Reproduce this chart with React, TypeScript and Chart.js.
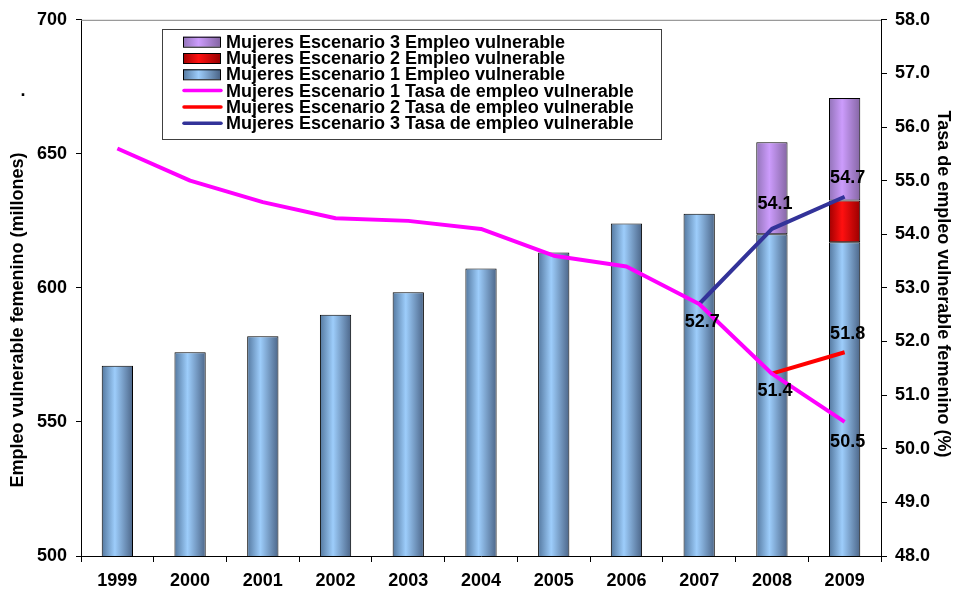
import { useEffect, useRef } from 'react';
import { Chart, registerables } from 'chart.js';

Chart.register(...registerables);

const FONT = '"Liberation Sans", Arial, Helvetica, sans-serif';

const YEARS = ['1999', '2000', '2001', '2002', '2003', '2004', '2005', '2006', '2007', '2008', '2009'];

// Employment (millions): scenario 1 base, plus the extra amounts of scenarios 2 and 3 stacked on top
const EMPLEO_ESC1 = [571, 576, 582, 590, 598.4, 607.2, 613.2, 624, 627.7, 620, 617];
const EMPLEO_ESC2_EXTRA = [null, null, null, null, null, null, null, null, null, null, 15.6];
const EMPLEO_ESC3_EXTRA = [null, null, null, null, null, null, null, null, null, 34.3, 38.2];

// Vulnerable employment rate (%)
const TASA_ESC1 = [55.6, 55.0, 54.6, 54.3, 54.25, 54.1, 53.6, 53.4, 52.7, 51.4, 50.5];
const TASA_ESC2 = [null, null, null, null, null, null, null, null, null, 51.4, 51.8];
const TASA_ESC3 = [null, null, null, null, null, null, null, null, 52.7, 54.1, 54.7];

const LEFT_TICKS = [500, 550, 600, 650, 700];
const RIGHT_TICKS = [48, 49, 50, 51, 52, 53, 54, 55, 56, 57, 58];

const LABEL_ESC1 = 'Mujeres Escenario 1 Empleo vulnerable';
const LABEL_ESC2 = 'Mujeres Escenario 2 Empleo vulnerable';
const LABEL_ESC3 = 'Mujeres Escenario 3 Empleo vulnerable';
const LABEL_TASA1 = 'Mujeres Escenario 1 Tasa de empleo vulnerable';
const LABEL_TASA2 = 'Mujeres Escenario 2 Tasa de empleo vulnerable';
const LABEL_TASA3 = 'Mujeres Escenario 3 Tasa de empleo vulnerable';

const TITLE_LEFT = 'Empleo vulnerable femenino (millones)';
const TITLE_RIGHT = 'Tasa de empleo vulnerable femenino (%)';

const BAR_FRACTION = 0.43;

// Cylinder-like shading: dark edge, bright centre, dark edge
const BLUE_STOPS = ['#54789f', '#9dcdfb', '#4c6689'];
const RED_STOPS = ['#a00000', '#ff1010', '#9a0000'];
const PURPLE_STOPS = ['#9273b8', '#cc9cfc', '#8566a4'];

// Value labels: [dataset index, data index, vertical offset]
const VALUE_LABELS: [number, number, number][] = [
  [5, 8, 18],
  [5, 9, -25],
  [5, 10, -19],
  [3, 9, 17],
  [3, 10, 20],
  [4, 10, -18],
];

export default function App() {
  const ref = useRef<HTMLCanvasElement>(null);

  useEffect(() => {
    document.body.style.margin = '0';
    const canvas = ref.current!;

    const barGradient = (stops: string[]) => (ctx: any) => {
      if (ctx.type !== 'data') return stops[1];
      const chart = ctx.chart;
      const xs = chart.scales.x;
      if (!xs || !chart.chartArea) return stops[1];
      const cx = xs.getPixelForValue(ctx.dataIndex);
      const w = (xs.width / YEARS.length) * BAR_FRACTION;
      const g = chart.ctx.createLinearGradient(cx - w / 2, 0, cx + w / 2, 0);
      g.addColorStop(0, stops[0]);
      g.addColorStop(0.42, stops[1]);
      g.addColorStop(1, stops[2]);
      return g;
    };

    const decorations = {
      id: 'decorations',
      afterDatasetsDraw(chart: any) {
        const c = chart.ctx;
        const area = chart.chartArea;
        c.save();
        // plot area top border
        c.strokeStyle = '#808080';
        c.lineWidth = 1;
        c.beginPath();
        c.moveTo(area.left, area.top + 0.5);
        c.lineTo(area.right, area.top + 0.5);
        c.stroke();

        // value labels
        c.fillStyle = '#000';
        c.font = `bold 18px ${FONT}`;
        c.textAlign = 'center';
        c.textBaseline = 'middle';
        for (const [ds, i, dy] of VALUE_LABELS) {
          const el = chart.getDatasetMeta(ds).data[i];
          const v = chart.data.datasets[ds].data[i] as number;
          c.fillText(v.toFixed(1), el.x + 3, el.y + dy);
        }
        c.restore();
      },
      afterDraw(chart: any) {
        const c = chart.ctx;
        c.save();
        // axis titles
        c.fillStyle = '#000';
        c.font = `bold 18px ${FONT}`;
        c.textAlign = 'center';
        c.textBaseline = 'middle';
        c.save();
        c.translate(18.5, 320);
        c.rotate(-Math.PI / 2);
        c.fillText(TITLE_LEFT, 0, 0);
        c.restore();
        c.save();
        c.translate(943, 284);
        c.rotate(Math.PI / 2);
        c.fillText(TITLE_RIGHT, 0, 0);
        c.restore();
        c.fillText('.', 23, 91);

        // legend
        const bx = 162, by = 29, bw = 499, bh = 110;
        c.fillStyle = '#fff';
        c.fillRect(bx, by, bw, bh);
        c.strokeStyle = '#404040';
        c.lineWidth = 1;
        c.strokeRect(bx + 0.5, by + 0.5, bw, bh);
        const items: { label: string; kind: 'bar' | 'line'; stops?: string[]; color?: string }[] = [
          { label: LABEL_ESC3, kind: 'bar', stops: PURPLE_STOPS },
          { label: LABEL_ESC2, kind: 'bar', stops: RED_STOPS },
          { label: LABEL_ESC1, kind: 'bar', stops: BLUE_STOPS },
          { label: LABEL_TASA1, kind: 'line', color: '#ff00ff' },
          { label: LABEL_TASA2, kind: 'line', color: '#ff0000' },
          { label: LABEL_TASA3, kind: 'line', color: '#333399' },
        ];
        c.font = `bold 18px ${FONT}`;
        c.textAlign = 'left';
        items.forEach((it, k) => {
          const y = 41.7 + k * 16.3;
          if (it.kind === 'bar') {
            const g = c.createLinearGradient(183, 0, 220, 0);
            g.addColorStop(0, it.stops![0]);
            g.addColorStop(0.42, it.stops![1]);
            g.addColorStop(1, it.stops![2]);
            c.fillStyle = g;
            c.fillRect(183, y - 5, 37, 10);
            c.strokeStyle = '#000';
            c.strokeRect(183.5, y - 4.5, 37, 10);
          } else {
            c.strokeStyle = it.color!;
            c.lineWidth = 3.5;
            c.lineCap = 'round';
            c.beginPath();
            c.moveTo(184, y);
            c.lineTo(221, y);
            c.stroke();
            c.lineWidth = 1;
          }
          c.fillStyle = '#000';
          c.fillText(it.label, 226, y + 1);
        });
        c.restore();
      },
    };

    const tickFont = { family: FONT, size: 18, weight: 'bold' as const };

    const chart = new Chart(canvas, {
      type: 'bar',
      data: {
        labels: YEARS,
        datasets: [
          {
            type: 'bar',
            label: LABEL_ESC1,
            data: EMPLEO_ESC1,
            yAxisID: 'y',
            order: 2,
            backgroundColor: barGradient(BLUE_STOPS),
            borderColor: '#000',
            borderWidth: 1,
            borderSkipped: false,
          },
          {
            type: 'bar',
            label: LABEL_ESC2,
            data: EMPLEO_ESC2_EXTRA,
            yAxisID: 'y',
            order: 2,
            backgroundColor: barGradient(RED_STOPS),
            borderColor: '#000',
            borderWidth: 1,
            borderSkipped: false,
          },
          {
            type: 'bar',
            label: LABEL_ESC3,
            data: EMPLEO_ESC3_EXTRA,
            yAxisID: 'y',
            order: 2,
            backgroundColor: barGradient(PURPLE_STOPS),
            borderColor: '#000',
            borderWidth: 1,
            borderSkipped: false,
          },
          {
            type: 'line',
            label: LABEL_TASA1,
            data: TASA_ESC1,
            yAxisID: 'y1',
            order: 1,
            borderColor: '#ff00ff',
            borderWidth: 4,
            pointRadius: 0,
            tension: 0,
            borderJoinStyle: 'round',
          },
          {
            type: 'line',
            label: LABEL_TASA2,
            data: TASA_ESC2,
            yAxisID: 'y1',
            order: 1,
            borderColor: '#ff0000',
            borderWidth: 4,
            pointRadius: 0,
            tension: 0,
            borderJoinStyle: 'round',
          },
          {
            type: 'line',
            label: LABEL_TASA3,
            data: TASA_ESC3,
            yAxisID: 'y1',
            order: 1,
            borderColor: '#333399',
            borderWidth: 4,
            pointRadius: 0,
            tension: 0,
            borderJoinStyle: 'round',
          },
        ] as any,
      },
      options: {
        animation: false,
        responsive: false,
        maintainAspectRatio: false,
        layout: { padding: { top: 19, left: 0, right: 0, bottom: 0 } },
        datasets: {
          bar: { categoryPercentage: 1, barPercentage: BAR_FRACTION },
        },
        plugins: {
          legend: { display: false },
          tooltip: { enabled: false },
        },
        scales: {
          x: {
            stacked: true,
            grid: { display: true, drawOnChartArea: false, tickLength: 6, color: '#000', offset: true },
            border: { color: '#000', width: 1 },
            ticks: { font: tickFont, color: '#000', padding: 8, maxRotation: 0, autoSkip: false },
            afterFit: (s: any) => {
              s.height = 36;
            },
          },
          y: {
            position: 'left',
            stacked: true,
            min: LEFT_TICKS[0],
            max: LEFT_TICKS[LEFT_TICKS.length - 1],
            afterBuildTicks: (s: any) => {
              s.ticks = LEFT_TICKS.map((v) => ({ value: v }));
            },
            grid: { drawOnChartArea: false, tickLength: 5, color: '#000' },
            border: { color: '#000', width: 1 },
            ticks: { font: tickFont, color: '#000', padding: 9, callback: (v: any) => String(v) },
            afterFit: (s: any) => {
              s.width = 81;
            },
          },
          y1: {
            position: 'right',
            stacked: false,
            min: RIGHT_TICKS[0],
            max: RIGHT_TICKS[RIGHT_TICKS.length - 1],
            afterBuildTicks: (s: any) => {
              s.ticks = RIGHT_TICKS.map((v) => ({ value: v }));
            },
            grid: { drawOnChartArea: false, tickLength: 6, color: '#000' },
            border: { color: '#000', width: 1 },
            ticks: { font: tickFont, color: '#000', padding: 8, callback: (v: any) => Number(v).toFixed(1) },
            afterFit: (s: any) => {
              s.width = 75;
            },
          },
        },
      } as any,
      plugins: [decorations],
    });

    return () => chart.destroy();
  }, []);

  return (
    <div style={{ position: 'absolute', left: 0, top: 0, width: 956, height: 592, background: '#fff' }}>
      <canvas ref={ref} width={956} height={592} style={{ display: 'block', width: 956, height: 592 }} />
    </div>
  );
}
